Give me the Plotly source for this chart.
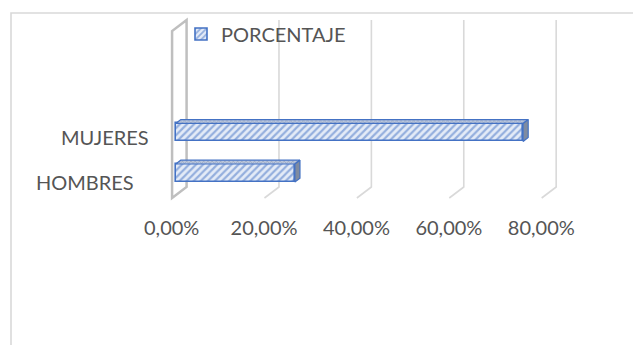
import plotly.graph_objects as go

# ---- data -----------------------------------------------------------------
categories = ["HOMBRES", "MUJERES"]
porcentaje = [25.8, 75.2]                      # percent of respondents
tick_values = [0, 20, 40, 60, 80]
tick_labels = ["0,00%", "20,00%", "40,00%", "60,00%", "80,00%"]
series_name = "PORCENTAJE"

# ---- geometry / style -----------------------------------------------------
W, H = 633, 345
PLOT_TOP_PX, PLOT_BOTTOM_PX = 0, 206          # plot area in figure pixels
X0_PX, PX_PER_PCT = 175.7, 4.62               # 0 % on the bar plane, px per 1 %
Y0_PX, PX_PER_CAT = 173.0, 40.6               # centre of first category, px per category
BAR_PX = 18

# oblique depth of the 3-D box (front plane -> back plane), in pixels
DEPTH_X, DEPTH_Y = 14.5, -11.0
F_AXIS = 0.25          # bars' front face sits at this depth fraction
F_BAR_BACK = 0.60      # bars' back face
FLOOR_FRONT_PX = 198.0
TOP_BACK_PX = 20.0

TEXT = "#555555"
GRID = "#d9d9d9"
WALL = "#bfbfbf"
BLUE = "#4472c4"
FONT = "Lato"

x_range = [(0 - X0_PX) / PX_PER_PCT, (W - X0_PX) / PX_PER_PCT]
y_range = [(Y0_PX - PLOT_BOTTOM_PX) / PX_PER_CAT, (Y0_PX - PLOT_TOP_PX) / PX_PER_CAT]


def y_of_px(py):
    return (Y0_PX - py) / PX_PER_CAT


def shift(x, y, f):
    """Move a point on the bar plane to depth fraction f."""
    d = f - F_AXIS
    return x + d * DEPTH_X / PX_PER_PCT, y - d * DEPTH_Y / PX_PER_CAT


floor_axis = y_of_px(FLOOR_FRONT_PX + F_AXIS * DEPTH_Y)
top_axis = y_of_px(TOP_BACK_PX - (1 - F_AXIS) * DEPTH_Y)

fig = go.Figure()

# ---- walls and gridlines --------------------------------------------------
shapes = []


def path_of(points, close=False):
    s = "M " + " L ".join(f"{px},{py}" for px, py in points)
    return s + (" Z" if close else "")


for t in tick_values[1:]:
    ff = shift(t, floor_axis, 0.0)
    bf = shift(t, floor_axis, 1.0)
    bt = shift(t, top_axis, 1.0)
    shapes.append(dict(type="path", xref="x", yref="y", layer="below",
                       path=path_of([ff, bf, bt]),
                       line=dict(color=GRID, width=1.6)))

# side wall at 0 %
w_ff = shift(0, floor_axis, 0.0)
w_ft = shift(0, top_axis, 0.0)
w_bt = shift(0, top_axis, 1.0)
w_bf = shift(0, floor_axis, 1.0)
shapes.append(dict(type="path", xref="x", yref="y", layer="below",
                   path=path_of([w_ff, w_ft, w_bt, w_bf], close=True),
                   fillcolor="white", line=dict(color=WALL, width=2.5)))

# chart frame
def px_to_paper(px, py):
    return px / W, (PLOT_BOTTOM_PX - py) / (PLOT_BOTTOM_PX - PLOT_TOP_PX)


frame = [px_to_paper(11, H + 5), px_to_paper(11, 13), px_to_paper(W + 5, 13)]
shapes.append(dict(type="path", xref="paper", yref="paper", layer="below",
                   path=path_of(frame), line=dict(color=GRID, width=1.6)))

# ---- bars -----------------------------------------------------------------
ypos = list(range(len(categories)))
bar_w = BAR_PX / PX_PER_CAT

fig.add_trace(go.Bar(
    y=ypos, x=porcentaje, orientation="h", width=bar_w, name=series_name,
    marker=dict(color="#dae3f3",
                line=dict(color=BLUE, width=1.6),
                pattern=dict(shape="/", fgcolor=BLUE, bgcolor="#e4ebf7",
                             size=5, solidity=0.45)),
    showlegend=True, hoverinfo="x+y",
))

# top and end faces of each bar box
for yc, v in zip(ypos, porcentaje):
    yt, yb = yc + bar_w / 2, yc - bar_w / 2
    top = [(0, yt), (v, yt), shift(v, yt, F_BAR_BACK), shift(0, yt, F_BAR_BACK), (0, yt)]
    side = [(v, yt), (v, yb), shift(v, yb, F_BAR_BACK), shift(v, yt, F_BAR_BACK), (v, yt)]
    fig.add_trace(go.Scatter(
        x=[p[0] for p in top], y=[p[1] for p in top], mode="lines", fill="toself",
        fillcolor="#a7b6d3", line=dict(color=BLUE, width=1.2),
        fillpattern=dict(shape="x", fgcolor="#7d8aa3", bgcolor="#b9c6de", size=3, solidity=0.4),
        showlegend=False, hoverinfo="skip"))
    fig.add_trace(go.Scatter(
        x=[p[0] for p in side], y=[p[1] for p in side], mode="lines", fill="toself",
        fillcolor="#7f8ba0", line=dict(color=BLUE, width=1.2),
        showlegend=False, hoverinfo="skip"))

# ---- category labels --------------------------------------------------------
label_right_px = [136, 151]
label_centre_px = [182, 136.5]
annotations = []
for yc, name, rx, cy in zip(ypos, categories, label_right_px, label_centre_px):
    annotations.append(dict(
        xref="paper", yref="y", x=rx / W, y=yc, xanchor="right", yanchor="middle",
        yshift=-(cy - (Y0_PX - yc * PX_PER_CAT)),
        text=name, showarrow=False, font=dict(family=FONT, size=20, color=TEXT)))

lx, ly = px_to_paper(181, 34)

fig.update_layout(
    width=W, height=H,
    margin=dict(l=0, r=0, t=PLOT_TOP_PX, b=H - PLOT_BOTTOM_PX, autoexpand=False),
    paper_bgcolor="white", plot_bgcolor="white",
    shapes=shapes, annotations=annotations,
    showlegend=True,
    legend=dict(x=lx, y=ly, xanchor="left", yanchor="middle",
                font=dict(family=FONT, size=20, color=TEXT),
                bgcolor="rgba(0,0,0,0)", borderwidth=0),
    xaxis=dict(range=x_range, tickvals=tick_values, ticktext=tick_labels,
               showgrid=False, zeroline=False, showline=False, ticks="",
               ticklabelshift=-4, ticklabelstandoff=8,
               tickfont=dict(family=FONT, size=20, color=TEXT), fixedrange=True),
    yaxis=dict(range=y_range, showgrid=False, zeroline=False, showline=False,
               showticklabels=False, ticks="", fixedrange=True),
    bargap=0,
)

fig.write_html("out.html")
